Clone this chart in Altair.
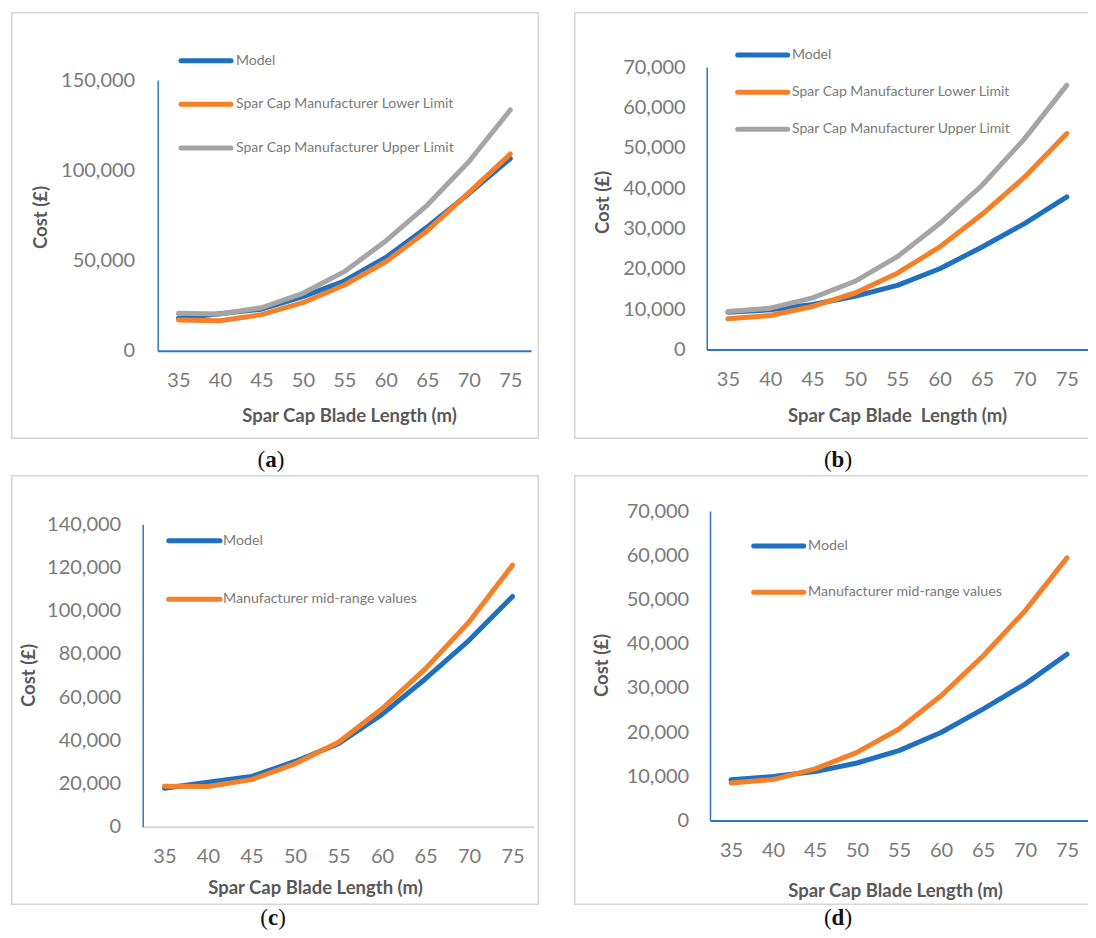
import altair as alt
import pandas as pd

lengths = [35, 40, 45, 50, 55, 60, 65, 70, 75]
x_ticks = [35, 40, 45, 50, 55, 60, 65, 70, 75]

a_model = [18000, 20500, 23000, 30000, 38600, 51700, 68600, 87000, 106500]
a_lower = [17000, 16600, 20000, 26600, 36400, 49300, 66500, 87600, 109000]
a_upper = [20700, 20300, 23800, 31800, 43800, 60800, 80700, 104700, 133400]

b_model = [9260, 9830, 11150, 13200, 15900, 20000, 25400, 31200, 37800]
b_lower = [7600, 8430, 10660, 14000, 18900, 25400, 33500, 42700, 53500]
b_upper = [9400, 10250, 12800, 16900, 23000, 31200, 40700, 52200, 65500]

c_model = [17800, 20600, 23200, 30200, 38400, 52000, 68500, 86300, 106600]
c_mid = [18700, 18600, 21800, 29100, 39100, 54600, 73200, 94800, 121100]

d_model = [9200, 9930, 11060, 13000, 15800, 19900, 25200, 30850, 37600]
d_mid = [8500, 9250, 11660, 15400, 20700, 28200, 37200, 47400, 59400]

names_abc = ["Model", "Spar Cap Manufacturer Lower Limit", "Spar Cap Manufacturer Upper Limit"]
names_cd = ["Model", "Manufacturer mid-range values"]

BLUE = "#1F70C1"
ORANGE = "#F5802A"
GRAY = "#A5A5A5"
AXIS_BLUE = "#2E75C6"
LABEL = "#7A7A7A"
TITLE = "#595959"
FONT = "Lato"
SERIF = "Liberation Serif"


def panel(series, ymax, ystep, W, H, xr, yr, ylab_pad, xtitle, xtitle_x, xtitle_y,
          ytitle_x, ytitle_y, leg_x0, leg_x1, leg_tx, leg_ys, leg_fs, letter,
          letter_half, cap_x, cap_y, xdomain_color, right_edge):
    names = [s[0] for s in series]
    colors = [s[2] for s in series]
    rows = []
    for name, vals, _ in series:
        for L, v in zip(lengths, vals):
            rows.append({"length": L, "cost": v, "series": name})
    df = pd.DataFrame(rows)

    color = alt.Color("series:N", scale=alt.Scale(domain=names, range=colors), legend=None)

    box = alt.Chart(pd.DataFrame({"k": [0]})).mark_rect(
        fillOpacity=0, stroke="#D6D6D6", strokeWidth=1.5, clip=True
    ).encode(
        x=alt.value(0.75),
        x2=alt.value(W - 0.75 if right_edge else W + 30),
        y=alt.value(0.75),
        y2=alt.value(H - 0.75),
    )

    lines = alt.Chart(df).mark_line(
        strokeWidth=5, strokeCap="round", strokeJoin="round"
    ).encode(
        x=alt.X(
            "length:Q",
            scale=alt.Scale(domain=[32.5, 77.5], range=xr, nice=False, zero=False),
            axis=alt.Axis(
                values=x_ticks, format="d", grid=False, ticks=False, tickSize=0,
                offset=-(H - yr[0]), domainColor=xdomain_color, domainWidth=2,
                labelFont=FONT, labelFontSize=20, labelColor=LABEL,
                labelBaseline="middle", labelPadding=30, labelFlush=False,
                title=xtitle, titleFont=FONT, titleFontSize=18.5, titleFontWeight="bold",
                titleColor=TITLE, titleX=xtitle_x, titleY=xtitle_y,
                titleBaseline="middle", titleAlign="center",
            ),
        ),
        y=alt.Y(
            "cost:Q",
            scale=alt.Scale(domain=[0, ymax], range=yr, nice=False, zero=True),
            axis=alt.Axis(
                values=list(range(0, ymax + 1, ystep)), format=",d", grid=False,
                ticks=False, tickSize=0, offset=-xr[0], domainColor=AXIS_BLUE,
                domainWidth=1.5, labelFont=FONT, labelFontSize=20, labelColor=LABEL,
                labelPadding=ylab_pad, labelFlush=False,
                title="Cost (£)", titleFont=FONT, titleFontSize=18.5,
                titleFontWeight="bold", titleColor=TITLE, titleX=ytitle_x,
                titleY=ytitle_y, titleAngle=270, titleBaseline="middle",
                titleAlign="center",
            ),
        ),
        color=color,
    )

    leg = pd.DataFrame({"series": names, "rank": list(range(len(names)))})
    ly = alt.Y("rank:Q", scale=alt.Scale(domain=[0, len(names) - 1],
                                         range=[leg_ys[0], leg_ys[-1]],
                                         nice=False, zero=False), axis=None)
    leg_rule = alt.Chart(leg).mark_rule(strokeWidth=5, strokeCap="round").encode(
        x=alt.value(leg_x0), x2=alt.value(leg_x1), y=ly, color=color
    )
    leg_text = alt.Chart(leg).mark_text(
        align="left", baseline="middle", font=FONT, fontSize=leg_fs, color=LABEL
    ).encode(x=alt.value(leg_tx), y=ly, text="series:N")

    cap_df = pd.DataFrame({"c": [letter], "o": ["("], "e": [")"]})
    cap_letter = alt.Chart(cap_df).mark_text(
        font=SERIF, fontSize=23, fontWeight="bold", color="#111111",
        baseline="middle", align="center"
    ).encode(x=alt.value(cap_x), y=alt.value(cap_y), text="c:N")
    cap_open = alt.Chart(cap_df).mark_text(
        font=SERIF, fontSize=23, color="#111111", baseline="middle", align="right"
    ).encode(x=alt.value(cap_x - letter_half), y=alt.value(cap_y), text="o:N")
    cap_close = alt.Chart(cap_df).mark_text(
        font=SERIF, fontSize=23, color="#111111", baseline="middle", align="left"
    ).encode(x=alt.value(cap_x + letter_half), y=alt.value(cap_y), text="e:N")

    return alt.layer(
        box, lines, leg_rule, leg_text, cap_open, cap_letter, cap_close
    ).resolve_scale(y="independent").properties(width=W, height=H)


pa = panel(
    [(names_abc[0], a_model, BLUE), (names_abc[1], a_lower, ORANGE), (names_abc[2], a_upper, GRAY)],
    150000, 50000, 528, 427, [146.7, 520], [338.7, 68], 23,
    "Spar Cap Blade Length (m)", 338, 64.5, -117.7, 205,
    170, 220, 225, [48.7, 136], 14, "a", 5.8, 260, 448, AXIS_BLUE, True,
)
pb = panel(
    [(names_abc[0], b_model, BLUE), (names_abc[1], b_lower, ORANGE), (names_abc[2], b_upper, GRAY)],
    70000, 10000, 514, 427, [132.7, 514], [337.5, 55], 21.5,
    "Spar Cap Blade\u00a0 Length (m)", 323, 65.5, -104.7, 190,
    163.7, 213.7, 218, [43, 117.3], 14, "b", 6.4, 264, 448, AXIS_BLUE, False,
)
pc = panel(
    [(names_cd[0], c_model, BLUE), (names_cd[1], c_mid, ORANGE)],
    140000, 20000, 528, 430, [131.7, 523.3], [351.7, 49.3], 22,
    "Spar Cap Blade Length (m)", 304, 60.3, -114.7, 200,
    157.7, 209, 212, [65.7, 124.3], 14.2, "c", 5.2, 262, 443, "#D9D9D9", True,
)
pd_ = panel(
    [(names_cd[0], d_model, BLUE), (names_cd[1], d_mid, ORANGE)],
    70000, 10000, 514, 430, [136, 514], [345.5, 36], 21.3,
    "Spar Cap Blade Length (m)", 321, 69.5, -109, 190,
    179.7, 229.7, 234, [71, 117.3], 14.2, "d", 6.4, 264, 443, AXIS_BLUE, False,
)

chart = alt.concat(
    pa, pb, pc, pd_, columns=2, spacing={"row": 36, "column": 35}, bounds="flush"
).resolve_scale(color="independent").properties(
    padding={"left": 3, "top": 4, "right": 0, "bottom": 0}, background="white"
).configure_view(strokeWidth=0)

chart.save("out.html", embed_options={"renderer": "svg", "actions": False})
